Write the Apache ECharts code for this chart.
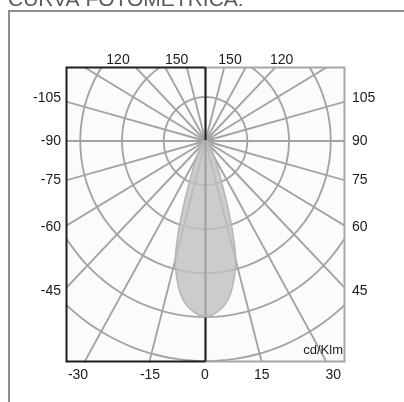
<!DOCTYPE html>
<html>
<head>
<meta charset="utf-8">
<script src="https://cdn.jsdelivr.net/npm/echarts@6/dist/echarts.min.js"></script>
<style>
  html, body { margin: 0; padding: 0; background: #ffffff; }
  #chart { width: 404px; height: 402px; }
</style>
</head>
<body>
<div id="chart"></div>
<script>
// Luminous intensity (cd/klm) against the angle from the nadir (degrees); the curve is symmetric
const gammaAngles = [0, 2.5, 5, 7.5, 10, 12.5, 15, 17.5, 20, 22.5, 25, 30, 35, 40, 45, 50, 60, 70, 80, 90];
const intensity   = [399, 395, 386, 372, 350, 318, 280, 215, 148, 100, 72, 40, 28, 20, 15, 12, 8, 5, 3, 0];

// Polar grid: rings (cd/klm) and spokes (degrees)
const ringRadii = [100, 200, 300, 400, 500, 600];
const spokeAngles = [0, 15, 30, 45, 60, 75, 90, 105, 120, 135, 150, 165,
                     180, 195, 210, 225, 240, 255, 270, 285, 300, 315, 330, 345];

// Angle labels around the frame
const leftLabels   = ['-105', '-90', '-75', '-60', '-45'];
const rightLabels  = ['105', '90', '75', '60', '45'];
const topLabels    = ['120', '150', '150', '120'];
const bottomLabels = ['-30', '-15', '0', '15', '30'];
const unitLabel  = 'cd/Klm';
const titleText  = 'CURVA FOTOMETRICA:';

// Label placement (pixels)
const sideLabelY   = [97.7, 141, 180, 226.7, 291];
const topLabelX    = [118, 176.7, 230, 281.7];
const bottomLabelX = [78, 150, 205, 261.7, 333.3];

// Plot extent in cd/klm
const X_MAX = 333, Y_MAX = 167, Y_MIN = -501;

const rad = d => d * Math.PI / 180;
const toXY = (r, deg) => [r * Math.sin(rad(deg)), -r * Math.cos(rad(deg))];

// Closed outline: right half from the centre down to the nadir, then the mirrored left half
const curvePoints = [];
for (let i = gammaAngles.length - 1; i >= 0; i--) curvePoints.push(toXY(intensity[i], gammaAngles[i]));
for (let i = 1; i < gammaAngles.length; i++) curvePoints.push(toXY(intensity[i], -gammaAngles[i]));

const GRID_COLOR = '#a3a3a3';
const GRID_WIDTH = 1.85;
const LABEL_FONT = '14px "Liberation Sans", Arial, sans-serif';

const chart = echarts.init(document.getElementById('chart'), null, { renderer: 'canvas' });

function ringItem(params, api) {
  const r = api.value(0);
  const pts = [];
  for (let a = 0; a <= 360; a += 2) pts.push(api.coord(toXY(r, a)));
  return { type: 'polyline', shape: { points: pts },
           style: { stroke: GRID_COLOR, lineWidth: GRID_WIDTH, fill: null } };
}

function spokeItem(params, api) {
  const a = api.value(0);
  const p0 = api.coord([0, 0]);
  const p1 = api.coord(toXY(800, a));
  return { type: 'line', shape: { x1: p0[0], y1: p0[1], x2: p1[0], y2: p1[1] },
           style: { stroke: GRID_COLOR, lineWidth: GRID_WIDTH } };
}

function frameItem(params, api) {
  const tl = api.coord([-X_MAX, Y_MAX]), br = api.coord([X_MAX, Y_MIN]);
  const ct = api.coord([0, Y_MAX]), cb = api.coord([0, Y_MIN]);
  return { type: 'group', children: [
    { type: 'polyline', shape: { points: [ct, [br[0], tl[1]], br, cb] },
      style: { stroke: '#a6a6a6', lineWidth: 2, fill: null } },
    { type: 'polyline', shape: { points: [ct, tl, [tl[0], br[1]], cb] },
      style: { stroke: '#1e1e1e', lineWidth: 2, fill: null } },
    { type: 'line', shape: { x1: ct[0], y1: ct[1], x2: cb[0], y2: cb[1] },
      style: { stroke: '#1e1e1e', lineWidth: 2 } }
  ] };
}

function curveItem(params, api) {
  return { type: 'polygon', shape: { points: curvePoints.map(p => api.coord(p)), smooth: 0.25 },
           style: { fill: 'rgba(192,192,192,0.8)', stroke: '#b6b6b6', lineWidth: 1.6 } };
}

const graphics = [
  { type: 'polyline', shape: { points: [[9, 402], [9, 11], [404, 11]] },
    style: { stroke: '#8e8e8e', lineWidth: 2, fill: null }, z: 10 },
  { type: 'text', x: 8, y: 0,
    style: { text: titleText, font: '21px "Liberation Sans", Arial, sans-serif', fill: '#5a5a5a',
             align: 'left', verticalAlign: 'middle' }, z: 10 },
  { type: 'text', x: 343, y: 350,
    style: { text: unitLabel, font: '13px "Liberation Sans", Arial, sans-serif', fill: '#222',
             align: 'right', verticalAlign: 'middle' }, z: 10 }
];
leftLabels.forEach((t, i) => graphics.push({ type: 'text', x: 61, y: sideLabelY[i],
  style: { text: t, font: LABEL_FONT, fill: '#1a1a1a', align: 'right', verticalAlign: 'middle' }, z: 10 }));
rightLabels.forEach((t, i) => graphics.push({ type: 'text', x: 352, y: sideLabelY[i],
  style: { text: t, font: LABEL_FONT, fill: '#1a1a1a', align: 'left', verticalAlign: 'middle' }, z: 10 }));
topLabels.forEach((t, i) => graphics.push({ type: 'text', x: topLabelX[i], y: 60,
  style: { text: t, font: LABEL_FONT, fill: '#1a1a1a', align: 'center', verticalAlign: 'middle' }, z: 10 }));
bottomLabels.forEach((t, i) => graphics.push({ type: 'text', x: bottomLabelX[i], y: 375,
  style: { text: t, font: LABEL_FONT, fill: '#1a1a1a', align: 'center', verticalAlign: 'middle' }, z: 10 }));

chart.setOption({
  animation: false,
  backgroundColor: '#ffffff',
  grid: { left: 66.5, top: 67.5, width: 278, height: 294, show: true,
          backgroundColor: '#fbfbfb', borderWidth: 0 },
  xAxis: { type: 'value', min: -X_MAX, max: X_MAX, show: false },
  yAxis: { type: 'value', min: Y_MIN, max: Y_MAX, show: false },
  series: [
    { type: 'custom', name: 'rings', clip: true, z: 1, silent: true,
      data: ringRadii.map(r => [r, 0]), renderItem: ringItem },
    { type: 'custom', name: 'spokes', clip: true, z: 1, silent: true,
      data: spokeAngles.map(a => [a, 0]), renderItem: spokeItem },
    { type: 'custom', name: 'frame', clip: false, z: 2, silent: true,
      data: [[0, 0]], renderItem: frameItem },
    { type: 'custom', name: 'curve', clip: true, z: 3, silent: true,
      data: [[0, 0]], renderItem: curveItem }
  ],
  graphic: graphics
});
</script>
</body>
</html>
